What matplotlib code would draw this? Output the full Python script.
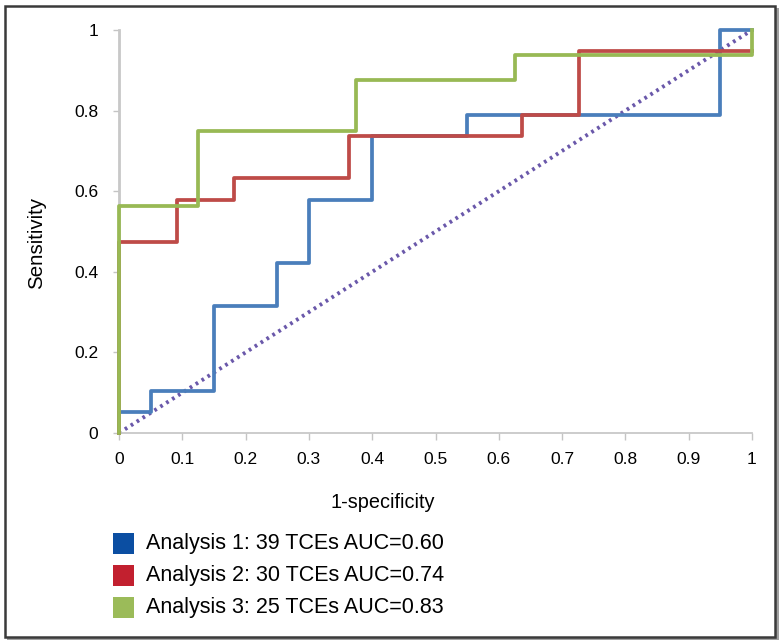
import matplotlib
matplotlib.use("Agg")
import matplotlib.pyplot as plt
from matplotlib.patches import Rectangle

plt.rcParams['font.family'] = ['Liberation Sans', 'DejaVu Sans']

# Data (step ROC curves)
a1_fpr = [0.0, 0.0, 0.05, 0.05, 0.15, 0.15, 0.25, 0.25, 0.30, 0.30, 0.40, 0.40, 0.55, 0.55, 0.95, 0.95, 1.0]
a1_tpr = [0.0, 0.0526, 0.0526, 0.105, 0.105, 0.316, 0.316, 0.421, 0.421, 0.579, 0.579, 0.737, 0.737, 0.789, 0.789, 1.0, 1.0]

a2_fpr = [0.0, 0.0, 0.0909, 0.0909, 0.1818, 0.1818, 0.3636, 0.3636, 0.6364, 0.6364, 0.7273, 0.7273, 1.0]
a2_tpr = [0.0, 0.4737, 0.4737, 0.5789, 0.5789, 0.6316, 0.6316, 0.7368, 0.7368, 0.7895, 0.7895, 0.9474, 0.9474]

a3_fpr = [0.0, 0.0, 0.125, 0.125, 0.375, 0.375, 0.625, 0.625, 1.0, 1.0]
a3_tpr = [0.0, 0.5625, 0.5625, 0.75, 0.75, 0.875, 0.875, 0.9375, 0.9375, 1.0]

diag_x = [0.0, 1.0]
diag_y = [0.0, 1.0]

x_ticks = [0, 0.1, 0.2, 0.3, 0.4, 0.5, 0.6, 0.7, 0.8, 0.9, 1]
x_tick_labels = ['0', '0.1', '0.2', '0.3', '0.4', '0.5', '0.6', '0.7', '0.8', '0.9', '1']
y_ticks = [0, 0.2, 0.4, 0.6, 0.8, 1]
y_tick_labels = ['0', '0.2', '0.4', '0.6', '0.8', '1']

legend_labels = ['Analysis 1: 39 TCEs AUC=0.60',
                 'Analysis 2: 30 TCEs AUC=0.74',
                 'Analysis 3: 25 TCEs AUC=0.83']
line_colors = ['#4a7ebb', '#be4b48', '#98b954']
legend_colors = ['#0b4ea2', '#c2202f', '#9bbb59']

W, H = 782, 644
fig = plt.figure(figsize=(W / 100, H / 100), dpi=100)
fig.patch.set_facecolor('white')

# outer frame with shadow
fig.patches.append(Rectangle((7 / W, 4 / H), (W - 10) / W, (H - 12) / H,
                             transform=fig.transFigure, facecolor='#a0a0a0',
                             edgecolor='none', zorder=-2))
fig.patches.append(Rectangle((5 / W, 7 / H), (W - 12) / W, (H - 13) / H,
                             transform=fig.transFigure, facecolor='white',
                             edgecolor='#3a3a3a', lw=1.8, zorder=-1))

ax = fig.add_axes([119 / W, (H - 433) / H, 633 / W, 403 / H])
ax.set_zorder(5)
ax.set_facecolor('none')
ax.set_xlim(0, 1)
ax.set_ylim(0, 1)

ax.plot(diag_x, diag_y, color='#6a58aa', lw=2.8, ls=(0, (0.7, 1.1)),
        dash_capstyle='butt', clip_on=False, zorder=2)
ax.plot(a1_fpr, a1_tpr, color=line_colors[0], lw=2.7, clip_on=False, zorder=3)
ax.plot(a2_fpr, a2_tpr, color=line_colors[1], lw=2.7, clip_on=False, zorder=4)
ax.plot(a3_fpr, a3_tpr, color=line_colors[2], lw=2.7, clip_on=False, zorder=5)

for s in ['top', 'right']:
    ax.spines[s].set_visible(False)
ax.spines['left'].set_color('#c8c8c8')
ax.spines['left'].set_linewidth(2.0)
ax.spines['bottom'].set_color('#c8c8c8')
ax.spines['bottom'].set_linewidth(1.3)

ax.set_xticks(x_ticks)
ax.set_xticklabels(x_tick_labels, fontsize=12.5)
ax.set_yticks(y_ticks)
ax.set_yticklabels(y_tick_labels, fontsize=12.5)
ax.tick_params(axis='x', direction='out', length=5, width=1, color='#c4c4c4', pad=9)
ax.tick_params(axis='y', direction='out', length=4, width=1, color='#c4c4c4', pad=11)

ax.set_xlabel('1-specificity', fontsize=14.3)
ax.xaxis.set_label_coords((383 - 119) / 633, -(503 - 433) / 403)
ax.xaxis.label.set_va('center')
ax.set_ylabel('Sensitivity', fontsize=14.8)
ax.yaxis.set_label_coords(-(119 - 37) / 633, (433 - 243) / 403)
ax.yaxis.label.set_va('center')

# legend
row_centers = [543, 575, 607]
for lab, col, yc in zip(legend_labels, legend_colors, row_centers):
    fig.patches.append(Rectangle((113 / W, (H - yc - 10.5) / H), 21 / W, 21 / H,
                                 transform=fig.transFigure, facecolor=col,
                                 edgecolor='none', zorder=1))
    fig.text(146 / W, (H - yc) / H, lab, fontsize=15.5, va='center', ha='left')

fig.savefig('out.png', dpi=100)
